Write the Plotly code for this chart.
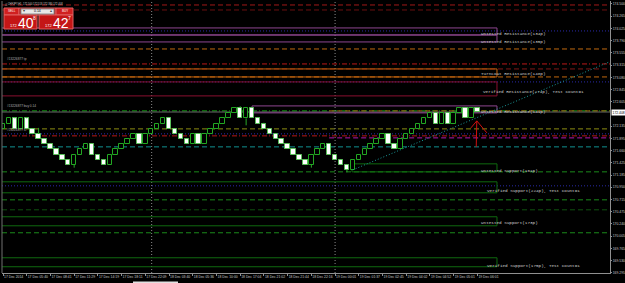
import plotly.graph_objects as go

# ---------------- data ----------------
opens = [172.085, 172.185, 172.285, 172.085, 172.285, 172.085, 171.985, 171.885, 171.785, 171.685,
         171.585, 171.485, 171.385, 171.585, 171.685, 171.785, 171.585, 171.485, 171.385, 171.585,
         171.685, 171.785, 171.885, 171.985, 171.785, 171.985, 172.085, 172.185, 172.285, 172.085,
         171.985, 171.885, 171.785, 171.985, 171.785, 171.985, 172.085, 172.185, 172.285, 172.385,
         172.485, 172.285, 172.485, 172.285, 172.185, 172.085, 171.985, 171.885, 171.785, 171.685,
         171.585, 171.485, 171.385, 171.585, 171.685, 171.785, 171.585, 171.485, 171.385, 171.285,
         171.485, 171.585, 171.685, 171.785, 171.885, 171.985, 171.785, 171.685, 171.885, 171.985,
         172.085, 172.185, 172.285, 172.385, 172.185, 172.385, 172.185, 172.385, 172.485, 172.285,
         172.485]
closes = [172.185, 172.285, 172.085, 172.285, 172.085, 171.985, 171.885, 171.785, 171.685, 171.585,
          171.485, 171.385, 171.585, 171.685, 171.785, 171.585, 171.485, 171.385, 171.585, 171.685,
          171.785, 171.885, 171.985, 171.785, 171.985, 172.085, 172.185, 172.285, 172.085, 171.985,
          171.885, 171.785, 171.985, 171.785, 171.985, 172.085, 172.185, 172.285, 172.385, 172.485,
          172.285, 172.485, 172.285, 172.185, 172.085, 171.985, 171.885, 171.785, 171.685, 171.585,
          171.485, 171.385, 171.585, 171.685, 171.785, 171.585, 171.485, 171.385, 171.285, 171.485,
          171.585, 171.685, 171.785, 171.885, 171.985, 171.785, 171.685, 171.885, 171.985, 172.085,
          172.185, 172.285, 172.385, 172.185, 172.385, 172.185, 172.385, 172.485, 172.285, 172.485,
          172.408]
upper_wicks = {2: 172.30, 4: 172.31, 6: 172.10, 40: 172.52, 44: 172.20, 79: 172.50, 80: 172.49}
lower_wicks = {12: 171.33, 41: 172.15, 52: 171.33, 58: 171.24}

time_label_idx = [0, 4, 8, 12, 16, 20, 24, 28, 32, 36, 40, 44, 48, 52, 56, 60, 64, 68, 72, 76, 80]
time_labels = ["17 Dec 2014", "17 Dec 05:40", "17 Dec 08:41", "17 Dec 11:29", "17 Dec 14:19",
               "17 Dec 18:11", "17 Dec 22:09", "18 Dec 03:40", "18 Dec 05:36", "18 Dec 10:00",
               "18 Dec 17:04", "18 Dec 21:02", "18 Dec 21:44", "18 Dec 22:16", "19 Dec 00:01",
               "19 Dec 01:37", "19 Dec 02:45", "19 Dec 04:02", "19 Dec 04:52", "19 Dec 05:01",
               "19 Dec 06:01"]

# (the 172.370 label is hidden behind the current-price label in the reference)
price_ticks = [174.500, 174.265, 174.025, 173.790, 173.555, 173.315, 173.080, 172.845, 172.605,
               172.135, 171.895, 171.660, 171.425, 171.185, 170.950, 170.715, 170.475,
               170.240, 170.005, 169.765, 169.530, 169.295]
price_tick_text = ["%.3f" % v for v in price_ticks]

bid_price = 172.408
header_text = "CHFJPY,H1  172.500 172.518 172.380 172.408"

# zones (support / resistance)
zone_labels = ["Untested Resistance(134p)", "Untested Resistance(135p)", "Turncoat Resistance(148p)",
               "Verified Resistance(274p), Test Count=1", "Untested Resistance(141p)",
               "Untested Support(161p)", "Verified Support(224p), Test Count=1",
               "Untested Support(173p)", "Verified Support(175p), Test Count=1"]
zone_low = [173.900, 173.765, 173.087, 172.720, 172.391, 171.249, 170.843, 170.204, 169.411]
zone_high = [174.036, 173.900, 173.242, 172.991, 172.526, 171.404, 171.056, 170.379, 169.585]
zone_start = [-2, -2, -2, -2, 42.0, 58.85, -2, -2, -2]
zone_end = 83.3
zone_label_price = [173.920, 173.765, 173.145, 172.797, 172.410, 171.269, 170.882, 170.262, 169.430]
zone_label_x = [80.3, 80.3, 80.3, 80.6, 80.3, 80.3, 81.3, 80.3, 81.3]
zone_colors = ["#8e4690", "#8e4690", "#c8640e", "#8a1030", "#8e4690",
               "#0f6a0f", "#0f6a0f", "#0f6a0f", "#0f6a0f"]

# horizontal levels
level_prices = [174.481, 174.384, 173.978, 173.629, 173.339, 173.242, 173.087, 172.991,
                172.430, 172.430, 172.081, 171.985, 171.946, 171.907, 171.733,
                171.249, 170.978, 170.707, 170.514, 170.069]
level_start = [None, None, None, None, None, None, None, None,
               None, 55.0, None, None, None, 55.0, None,
               None, None, None, None, None]
level_colors = ["#a01818", "#6a1010", "#2a2aa8", "#c0680e", "#b81818", "#801818", "#c0680e", "#2a2aa8",
                "#10a010", "#9a6010", "#8c8c10", "#2a2aa8", "#b81818", "#b018b0", "#109090",
                "#1a8a1a", "#2a2aa8", "#1a8a1a", "#0f500f", "#1a8a1a"]
level_dash = ["5px,3px", "5px,3px", "1px,2px", "5px,3px", "5px,2px,1px,2px", "5px,3px", "5px,3px", "1px,2px",
              "5px,2px,1px,2px", "5px,3px", "5px,3px", "1px,2px", "5px,2px,1px,2px", "5px,3px", "5px,3px",
              "5px,3px", "1px,2px", "5px,3px", "5px,3px", "5px,3px"]

separator_x = [25.07, 56.0]

trend_x = [59.0, 102.4]
trend_y = [171.288, 173.386]

arrow_x = [78.9, 79.9, 81.6, None, 79.9, 79.8]
arrow_y = [172.100, 172.236, 172.004, None, 172.236, 171.733]

order_labels = ["#13226877 tp", "#13226877 buy 0.14", "#13226877 sl"]
order_label_price = [173.359, 172.450, 171.985]

# ---------------- figure ----------------
W, H = 625, 283
ML, MR, MT, MB = 2, 15, 1, 10
PW, PH = W - ML - MR, H - MT - MB
XR = [-0.17, 102.36]
YR = [169.29, 174.558]


def fx(px):
    return (px - ML) / PW


def fy(py):
    return (H - MB - py) / PH


fig = go.Figure()

n = len(opens)
bull_x, bull_base, bull_h = [], [], []
bear_x, bear_base, bear_h = [], [], []
wx, wy = [], []
for i in range(n):
    o, c = opens[i], closes[i]
    if c >= o:
        bull_x.append(i); bull_base.append(o); bull_h.append(c - o)
    else:
        bear_x.append(i); bear_base.append(c); bear_h.append(o - c)
    top, bot = max(o, c), min(o, c)
    if i in upper_wicks:
        wx += [i, i, None]; wy += [top, upper_wicks[i], None]
    if i in lower_wicks:
        wx += [i, i, None]; wy += [bot, lower_wicks[i], None]

# shapes
shapes = []
for j in range(len(zone_labels)):
    shapes.append(dict(type="rect", xref="x", yref="y", x0=zone_start[j], x1=zone_end,
                       y0=zone_low[j], y1=zone_high[j], line=dict(color=zone_colors[j], width=1),
                       fillcolor="rgba(0,0,0,0)", layer="below"))
for j, p in enumerate(level_prices):
    if level_start[j] is None:
        shapes.append(dict(type="line", xref="paper", yref="y", x0=0, x1=1, y0=p, y1=p,
                           line=dict(color=level_colors[j], width=1, dash=level_dash[j]), layer="below"))
    else:
        shapes.append(dict(type="line", xref="x", yref="y", x0=level_start[j], x1=XR[1], y0=p, y1=p,
                           line=dict(color=level_colors[j], width=1, dash=level_dash[j]), layer="below"))
# bid line
shapes.append(dict(type="line", xref="paper", yref="y", x0=0, x1=1, y0=bid_price, y1=bid_price,
                   line=dict(color="#6a6a6a", width=1), layer="below"))
for sx in separator_x:
    shapes.append(dict(type="line", xref="x", yref="paper", x0=sx, x1=sx, y0=0, y1=1,
                       line=dict(color="#8a8a8a", width=1, dash="1px,2px"), layer="below"))
# left border
shapes.append(dict(type="line", xref="paper", yref="paper", x0=0, x1=0, y0=0, y1=1,
                   line=dict(color="#707070", width=1)))

# one-click trading panel
red = "#c41616"
panel = [
    (4, 8, 19, 15, "#d02020"),
    (19, 8, 56, 15, "#a01010"),
    (56, 8, 73, 15, "#d02020"),
    (4, 15, 37, 29, red),
    (39, 15, 73, 29, red),
]
for (x0, y0, x1, y1, col) in panel:
    shapes.append(dict(type="rect", xref="paper", yref="paper", x0=fx(x0), x1=fx(x1),
                       y0=fy(y1), y1=fy(y0), fillcolor=col, line=dict(color="#e06060", width=1)))
shapes.append(dict(type="rect", xref="paper", yref="paper", x0=fx(21), x1=fx(54),
                   y0=fy(14), y1=fy(9), fillcolor="#e8e8e8", line=dict(color="#909090", width=1)))
# bottom tab
shapes.append(dict(type="rect", xref="paper", yref="paper", x0=fx(133), x1=fx(178),
                   y0=fy(283.5), y1=fy(281.5), fillcolor="#e0e0e0", line=dict(width=0)))

fig.add_trace(go.Scatter(x=wx, y=wy, mode="lines", line=dict(color="#2aa82a", width=1),
                         hoverinfo="skip"))
fig.add_trace(go.Bar(x=bull_x, y=bull_h, base=bull_base, width=0.75,
                     marker=dict(color="black", line=dict(color="#22a822", width=1))))
fig.add_trace(go.Bar(x=bear_x, y=bear_h, base=bear_base, width=0.75,
                     marker=dict(color="white", line=dict(color="#5ac05a", width=1))))
fig.add_trace(go.Scatter(x=trend_x, y=trend_y, mode="lines",
                         line=dict(color="#1a9a9a", width=1, dash="1px,2px"), hoverinfo="skip"))
fig.add_trace(go.Scatter(x=arrow_x, y=arrow_y, mode="lines",
                         line=dict(color="#d01010", width=1), hoverinfo="skip"))

annotations = []
mono = "Liberation Mono"
sans = "Liberation Sans"
for j, t in enumerate(zone_labels):
    annotations.append(dict(x=zone_label_x[j], y=zone_label_price[j], xref="x", yref="y", text=t,
                            showarrow=False, xanchor="left", yanchor="middle",
                            font=dict(family=mono, size=4.3, color="#cfcfcf")))
for j, t in enumerate(order_labels):
    annotations.append(dict(x=fx(5), y=order_label_price[j], xref="paper", yref="y", text=t,
                            showarrow=False, xanchor="left", yanchor="bottom",
                            font=dict(family=sans, size=3.2, color="#b0b0b0")))
# header
annotations.append(dict(x=fx(3), y=fy(4), xref="paper", yref="paper", text="\u25b3 " + header_text,
                        showarrow=False, xanchor="left", yanchor="middle",
                        font=dict(family=sans, size=2.6, color="#c8c8c8")))
# panel texts
panel_txt = [
    (11.5, 11.5, "SELL", 3, "white", "center"),
    (64.5, 11.5, "BUY", 3, "white", "center"),
    (24, 11.5, "\u25be", 3.5, "#404040", "center"),
    (51, 11.5, "\u25b4", 3.5, "#404040", "center"),
    (37.5, 11.5, "0.14", 3.5, "black", "center"),
    (13, 25, "172", 4, "white", "center"),
    (25.5, 22.5, "40", 14, "white", "center"),
    (34, 18, "8", 5, "white", "center"),
    (48, 25, "172", 4, "white", "center"),
    (60.5, 22.5, "42", 14, "white", "center"),
    (69, 18, "7", 5, "white", "center"),
]
for (px, py, t, s, c, a) in panel_txt:
    annotations.append(dict(x=fx(px), y=fy(py), xref="paper", yref="paper", text=t,
                            showarrow=False, xanchor=a, yanchor="middle",
                            font=dict(family=sans, size=s, color=c)))
# bid label
annotations.append(dict(x=1, y=bid_price, xref="paper", yref="y", text="%.3f" % bid_price,
                        showarrow=False, xanchor="left", yanchor="middle", bgcolor="white",
                        borderpad=0.5, xshift=0.5,
                        font=dict(family=sans, size=3.4, color="black")))

fig.update_layout(
    width=W, height=H, margin=dict(l=ML, r=MR, t=MT, b=MB),
    paper_bgcolor="black", plot_bgcolor="black", showlegend=False,
    barmode="overlay", bargap=0,
    shapes=shapes, annotations=annotations,
    xaxis=dict(range=XR, tickvals=time_label_idx, ticktext=time_labels, tickangle=0,
               automargin=False,
               ticklabelposition="outside right", ticks="outside", ticklen=2,
               tickcolor="#909090", tickfont=dict(family=sans, size=3.4, color="#c8c8c8"),
               showgrid=False, zeroline=False, showline=True, linecolor="#909090", linewidth=1),
    yaxis=dict(range=YR, side="right", tickvals=price_ticks, ticktext=price_tick_text,
               automargin=False, ticklabelstandoff=0,
               ticks="outside", ticklen=1, tickcolor="#909090",
               tickfont=dict(family=sans, size=3.4, color="#c8c8c8"),
               showgrid=False, zeroline=False, showline=True, linecolor="#909090", linewidth=1),
)

fig.write_html("out.html")
